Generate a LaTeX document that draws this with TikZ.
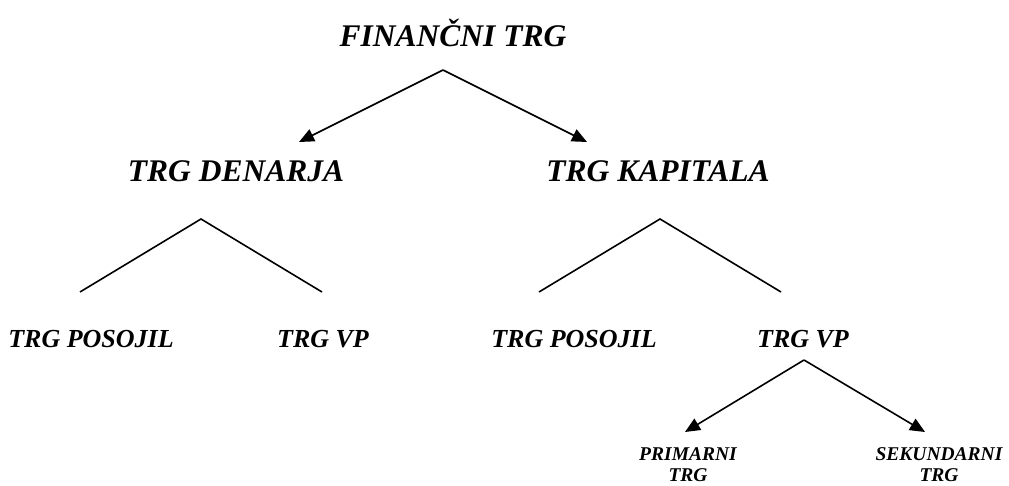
\documentclass[tikz,border=0pt]{standalone}
\usepackage{fontspec}
\setmainfont{Liberation Serif}
\usetikzlibrary{arrows.meta}
\begin{document}
\begin{tikzpicture}[x=1pt,y=-1pt,
  lbl/.style={anchor=base,inner sep=0pt},
  big/.style={lbl,font=\fontsize{31.5}{36}\selectfont\bfseries\itshape},
  mid/.style={lbl,font=\fontsize{26}{30}\selectfont\bfseries\itshape},
  small/.style={anchor=north,inner sep=0pt,align=center,font=\fontsize{19.5}{21.5}\selectfont\bfseries\itshape},
  conn/.style={line width=1.6pt},
  arr/.style={conn,-{Triangle[length=15pt,width=13pt]}}
]
\useasboundingbox (0,0) rectangle (1009,486);
% texts
\node[big] (fin) at (453,47) {FINANČNI TRG};
\node[big] (den) at (236,182) {TRG DENARJA};
\node[big] (kap) at (658,182) {TRG KAPITALA};
\node[mid] (pos1) at (91,347) {TRG POSOJIL};
\node[mid] (vp1) at (323,347) {TRG VP};
\node[mid] (pos2) at (574,347) {TRG POSOJIL};
\node[mid] (vp2) at (803,347) {TRG VP};
\node[small] (prim) at (688,447) {PRIMARNI\\TRG};
\node[small] (sek) at (939,447) {SEKUNDARNI\\TRG};
% connector points
\coordinate (a1) at (443,70);
\coordinate (t1l) at (299,142);
\coordinate (t1r) at (587,142);
\coordinate (a2) at (201,219);
\coordinate (e2l) at (80,292);
\coordinate (e2r) at (322,292);
\coordinate (a3) at (660,219);
\coordinate (e3l) at (539,292);
\coordinate (e3r) at (781,292);
\coordinate (a4) at (804,360);
\coordinate (t4l) at (685,432);
\coordinate (t4r) at (925,432);
% connectors
\draw[arr] (a1) -- (t1l);
\draw[arr] (a1) -- (t1r);
\draw[conn,line join=miter] (e2l) -- (a2) -- (e2r);
\draw[conn,line join=miter] (e3l) -- (a3) -- (e3r);
\draw[arr] (a4) -- (t4l);
\draw[arr] (a4) -- (t4r);
\end{tikzpicture}
\end{document}
